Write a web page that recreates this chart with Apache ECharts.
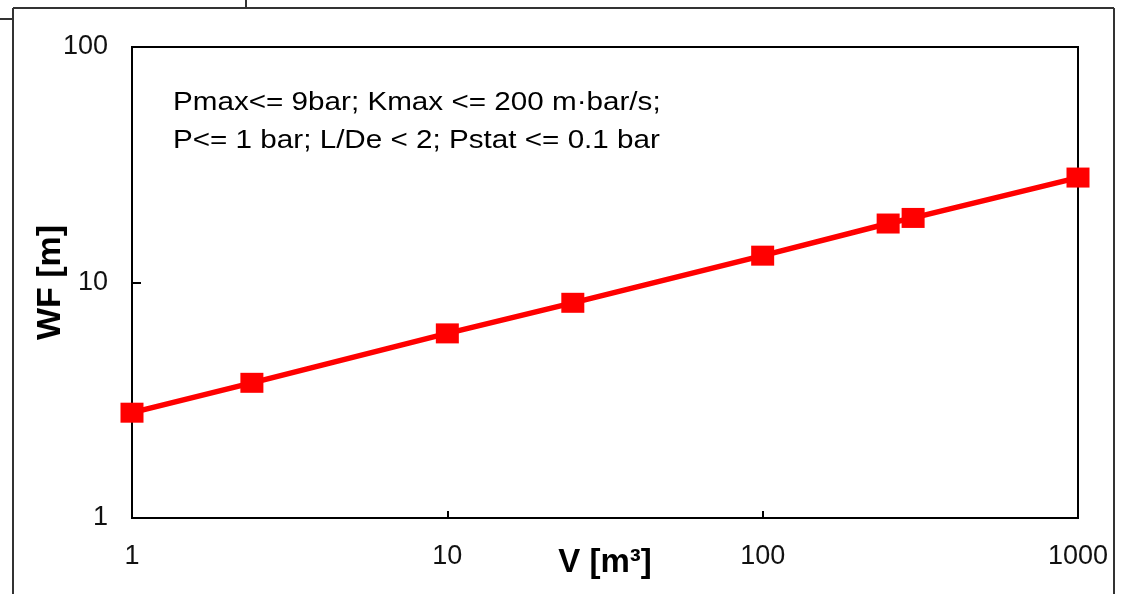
<!DOCTYPE html>
<html>
<head>
<meta charset="utf-8">
<script src="https://cdn.jsdelivr.net/npm/echarts@6/dist/echarts.min.js"></script>
<style>html,body{margin:0;padding:0;background:#fff;}#c{width:1122px;height:594px;}</style>
</head>
<body>
<div id="c"></div>
<script>
const volumes = [1, 2.4, 10, 25, 100, 250, 300, 1000];
const wfValues = [2.8, 3.75, 6.08, 8.2, 13.0, 17.8, 18.8, 27.9];
const xTickLabels = ['1', '10', '100', '1000'];
const yTickLabels = ['1', '10', '100'];
const noteLines = ['Pmax<= 9bar; Kmax <= 200 m·bar/s;', 'P<= 1 bar; L/De < 2; Pstat <= 0.1 bar'];

const font = '"Liberation Sans", Arial, sans-serif';
const chart = echarts.init(document.getElementById('c'), null, {renderer: 'canvas'});
const lineStyle = {stroke: '#333', lineWidth: 2};
chart.setOption({
  animation: false,
  backgroundColor: '#fff',
  grid: {left: 132, top: 47, right: 44, bottom: 76, containLabel: false, outerBoundsMode: 'none',
    show: true, borderColor: '#000', borderWidth: 2, backgroundColor: 'transparent'},
  xAxis: {
    type: 'log', logBase: 10, min: 1, max: 1000,
    name: 'V [m³]', nameLocation: 'middle', nameGap: 28, nameMoveOverlap: false,
    nameTextStyle: {fontFamily: font, fontSize: 33, fontWeight: 'bold', color: '#000'},
    axisLine: {show: true, lineStyle: {color: '#000', width: 2}},
    axisTick: {show: true, inside: true, length: 7, lineStyle: {color: '#000', width: 2}},
    minorTick: {show: false},
    splitLine: {show: false},
    axisLabel: {margin: 25, fontFamily: font, fontSize: 27, color: '#111',
      formatter: v => { const s = String(Math.round(v)); return xTickLabels.includes(s) ? s : ''; }}
  },
  yAxis: {
    type: 'log', logBase: 10, min: 1, max: 100,
    name: 'WF [m]', nameLocation: 'middle', nameGap: 64, nameRotate: 90, nameMoveOverlap: false,
    nameTextStyle: {fontFamily: font, fontSize: 34, fontWeight: 'bold', color: '#000'},
    axisLine: {show: true, lineStyle: {color: '#000', width: 2}},
    axisTick: {show: true, inside: true, length: 9, lineStyle: {color: '#000', width: 2}},
    minorTick: {show: false},
    splitLine: {show: false},
    axisLabel: {margin: 24, fontFamily: font, fontSize: 27, color: '#111',
      formatter: v => { const s = String(Math.round(v)); return yTickLabels.includes(s) ? s : ''; }}
  },
  series: [{
    type: 'line',
    data: volumes.map((v, i) => [v, wfValues[i]]),
    symbol: 'rect', symbolSize: [23, 20],
    lineStyle: {color: '#ff0000', width: 5.5},
    itemStyle: {color: '#ff0000'},
    z: 3
  }],
  graphic: [
    {type: 'line', shape: {x1: 13, y1: 8, x2: 13, y2: 594}, style: lineStyle, silent: true},
    {type: 'line', shape: {x1: 13, y1: 8, x2: 1114, y2: 8}, style: lineStyle, silent: true},
    {type: 'line', shape: {x1: 1114, y1: 8, x2: 1114, y2: 594}, style: lineStyle, silent: true},
    {type: 'line', shape: {x1: 246, y1: 0, x2: 246, y2: 8}, style: lineStyle, silent: true},
    {type: 'line', shape: {x1: 0, y1: 19, x2: 12, y2: 19}, style: lineStyle, silent: true},
    {type: 'text', x: 173, y: 84, scaleX: 1.14, style: {text: noteLines.join('\n'), font: '26px ' + font, fill: '#000', lineHeight: 38}}
  ]
});
</script>
</body>
</html>
